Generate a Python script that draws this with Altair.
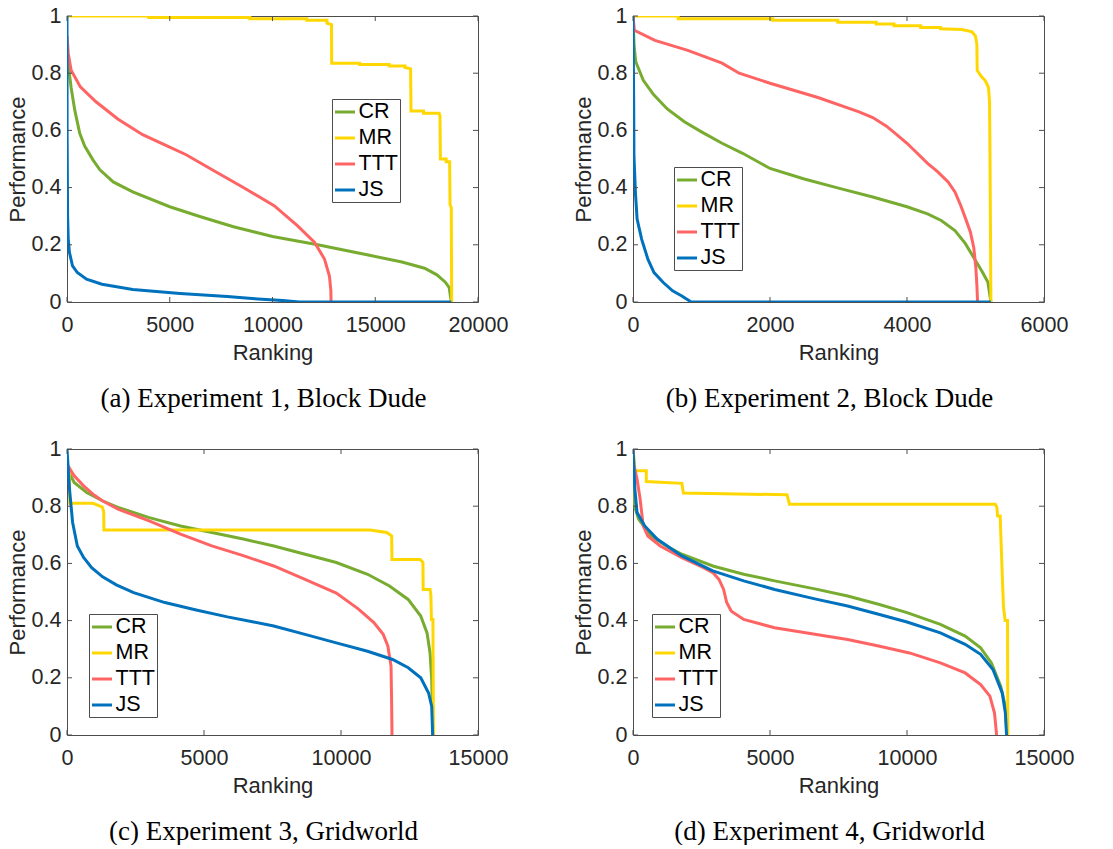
import altair as alt
import pandas as pd

SERIES = ["CR", "MR", "TTT", "JS"]
COLORS = ["#77AC30", "#FFD700", "#FF6464", "#0072BD"]
Y_TICKS = [0, 0.2, 0.4, 0.6, 0.8, 1]

# ---------- (a) Experiment 1, Block Dude ----------
A_XTICKS = [0, 5000, 10000, 15000, 20000]
A_CR = [(0, 0.87), (60, 0.83), (200, 0.75), (380, 0.67), (620, 0.59), (860, 0.545), (1270, 0.496),
        (1600, 0.462), (2250, 0.42), (3200, 0.385), (5000, 0.333), (6500, 0.298), (8100, 0.263),
        (10000, 0.229), (12200, 0.200), (14600, 0.165), (16300, 0.14), (17400, 0.118), (18000, 0.095),
        (18400, 0.07), (18600, 0.05), (18700, 0.0)]
A_MR = [(0, 1.0), (3980, 1.0), (3980, 0.995), (8900, 0.995), (8900, 0.99), (11670, 0.99), (11670, 0.985),
        (12650, 0.985), (12650, 0.975), (12870, 0.97), (12880, 0.835), (14240, 0.835), (14240, 0.83),
        (15680, 0.83), (15680, 0.825), (16450, 0.825), (16450, 0.82), (16720, 0.815), (16740, 0.668),
        (17350, 0.668), (17350, 0.66), (18110, 0.66), (18150, 0.65), (18170, 0.50), (18450, 0.50),
        (18450, 0.49), (18620, 0.49), (18640, 0.34), (18700, 0.33), (18720, 0.0)]
A_TTT = [(0, 0.93), (60, 0.87), (200, 0.81), (650, 0.752), (1410, 0.70), (2470, 0.64), (3680, 0.585),
         (5050, 0.54), (5800, 0.515), (7000, 0.465), (8560, 0.401), (10080, 0.337), (11210, 0.267),
         (12050, 0.208), (12530, 0.15), (12770, 0.091), (12840, 0.04), (12850, 0.0)]
A_JS = [(0, 1.0), (5, 0.6), (30, 0.3), (60, 0.22), (120, 0.173), (270, 0.126), (500, 0.103), (950, 0.08),
        (1700, 0.062), (3200, 0.044), (5500, 0.03), (7800, 0.019), (9000, 0.012), (10500, 0.005),
        (11300, 0.0), (18700, 0.0)]

# ---------- (b) Experiment 2, Block Dude ----------
B_XTICKS = [0, 2000, 4000, 6000]
B_CR = [(0, 1.0), (15, 0.9), (40, 0.84), (150, 0.775), (300, 0.725), (500, 0.675), (750, 0.63),
        (1000, 0.595), (1300, 0.555), (1600, 0.52), (2000, 0.467), (2500, 0.43), (3000, 0.398),
        (3500, 0.367), (4000, 0.333), (4300, 0.308), (4500, 0.285), (4700, 0.25), (4850, 0.205),
        (5000, 0.145), (5100, 0.105), (5180, 0.07), (5225, 0.0)]
B_MR = [(0, 1.0), (660, 1.0), (660, 0.99), (2040, 0.99), (2040, 0.985), (2990, 0.985), (2990, 0.978),
        (3550, 0.978), (3550, 0.972), (3810, 0.972), (3810, 0.966), (4200, 0.966), (4200, 0.96),
        (4490, 0.96), (4490, 0.955), (4800, 0.953), (4950, 0.945), (5000, 0.93), (5020, 0.90),
        (5025, 0.81), (5080, 0.79), (5140, 0.775), (5190, 0.75), (5205, 0.70), (5210, 0.57), (5225, 0.0)]
B_TTT = [(0, 1.0), (20, 0.95), (320, 0.915), (800, 0.88), (1300, 0.835), (1550, 0.80), (2000, 0.765),
         (2700, 0.715), (3300, 0.665), (3500, 0.645), (3700, 0.615), (3850, 0.585), (4000, 0.555),
         (4150, 0.52), (4300, 0.485), (4450, 0.455), (4600, 0.42), (4700, 0.385), (4780, 0.34),
         (4850, 0.295), (4925, 0.245), (4975, 0.19), (5005, 0.12), (5020, 0.06), (5030, 0.0)]
B_JS = [(0, 1.0), (10, 0.7), (14, 0.51), (36, 0.38), (60, 0.29), (126, 0.22), (217, 0.15), (307, 0.103),
        (442, 0.068), (578, 0.039), (713, 0.021), (850, 0.0), (5225, 0.0)]

# ---------- (c) Experiment 3, Gridworld ----------
C_XTICKS = [0, 5000, 10000, 15000]
C_CR = [(0, 0.95), (40, 0.924), (263, 0.883), (719, 0.848), (1290, 0.819), (1861, 0.796), (3000, 0.76),
        (4144, 0.731), (5285, 0.708), (6430, 0.685), (7550, 0.661), (8690, 0.632), (9830, 0.603),
        (10970, 0.562), (11770, 0.521), (12450, 0.474), (12910, 0.416), (13140, 0.357), (13250, 0.287),
        (13310, 0.194), (13360, 0.0)]
C_MR = [(0, 0.93), (90, 0.92), (95, 0.81), (950, 0.81), (1290, 0.797), (1340, 0.78), (1347, 0.717),
        (11060, 0.717), (11670, 0.708), (11850, 0.696), (11860, 0.614), (12890, 0.614), (12990, 0.603),
        (13000, 0.509), (13250, 0.509), (13280, 0.49), (13300, 0.404), (13355, 0.404), (13375, 0.0)]
C_TTT = [(0, 0.95), (40, 0.94), (263, 0.906), (605, 0.871), (947, 0.842), (1290, 0.819), (1861, 0.79),
         (3000, 0.749), (4144, 0.702), (5285, 0.661), (6404, 0.628), (7546, 0.591), (8687, 0.544),
         (9829, 0.496), (10628, 0.441), (11200, 0.393), (11540, 0.352), (11710, 0.311), (11826, 0.241),
         (11850, 0.1), (11861, 0.0)]
C_JS = [(0, 1.0), (91, 0.86), (205, 0.743), (377, 0.661), (605, 0.621), (900, 0.585), (1300, 0.553),
        (1800, 0.525), (2432, 0.498), (3573, 0.463), (4715, 0.437), (5856, 0.413), (6770, 0.396),
        (7546, 0.381), (8687, 0.352), (9829, 0.322), (10970, 0.293), (11884, 0.264), (12454, 0.235),
        (12911, 0.2), (13196, 0.147), (13311, 0.1), (13345, 0.0)]

# ---------- (d) Experiment 4, Gridworld ----------
D_XTICKS = [0, 5000, 10000, 15000]
D_CR = [(0, 1.0), (20, 0.88), (60, 0.8), (203, 0.755), (655, 0.696), (1219, 0.661), (1783, 0.632),
        (2912, 0.591), (4041, 0.562), (5169, 0.539), (6637, 0.511), (7833, 0.486), (8962, 0.457),
        (10000, 0.428), (11219, 0.387), (12122, 0.346), (12686, 0.305), (13081, 0.252), (13420, 0.171),
        (13590, 0.1), (13645, 0.0)]
D_MR = [(0, 1.0), (40, 0.965), (68, 0.924), (485, 0.924), (485, 0.886), (1783, 0.88), (1840, 0.846),
        (5621, 0.84), (5711, 0.807), (13220, 0.807), (13280, 0.796), (13305, 0.766), (13400, 0.766),
        (13460, 0.603), (13520, 0.45), (13580, 0.40), (13670, 0.40), (13680, 0.0)]
D_TTT = [(0, 1.0), (40, 0.94), (147, 0.895), (260, 0.825), (372, 0.731), (542, 0.696), (993, 0.661),
         (1783, 0.62), (2573, 0.585), (2912, 0.568), (3138, 0.544), (3307, 0.509), (3420, 0.463),
         (3589, 0.433), (4041, 0.404), (5169, 0.375), (6637, 0.352), (7833, 0.334), (8962, 0.311),
         (10090, 0.287), (11219, 0.252), (12122, 0.217), (12686, 0.176), (13025, 0.136), (13194, 0.077),
         (13270, 0.0)]
D_JS = [(0, 1.0), (68, 0.86), (147, 0.778), (429, 0.731), (880, 0.685), (1783, 0.626), (2912, 0.574),
        (4041, 0.539), (5169, 0.509), (6637, 0.476), (7833, 0.451), (8962, 0.422), (10000, 0.395),
        (11219, 0.357), (12122, 0.317), (12686, 0.282), (13137, 0.229), (13476, 0.147), (13590, 0.077),
        (13634, 0.0)]

PANELS = [
    dict(caption="(a) Experiment 1, Block Dude", xmax=20000, xticks=A_XTICKS,
         data={"CR": A_CR, "MR": A_MR, "TTT": A_TTT, "JS": A_JS}, legend=(265, 83)),
    dict(caption="(b) Experiment 2, Block Dude", xmax=6000, xticks=B_XTICKS,
         data={"CR": B_CR, "MR": B_MR, "TTT": B_TTT, "JS": B_JS}, legend=(41, 151)),
    dict(caption="(c) Experiment 3, Gridworld", xmax=15000, xticks=C_XTICKS,
         data={"CR": C_CR, "MR": C_MR, "TTT": C_TTT, "JS": C_JS}, legend=(22, 165)),
    dict(caption="(d) Experiment 4, Gridworld", xmax=15000, xticks=D_XTICKS,
         data={"CR": D_CR, "MR": D_MR, "TTT": D_TTT, "JS": D_JS}, legend=(19, 165)),
]

W, H = 411, 286
AX = "#4d4d4d"
TXT = "#262626"
SANS = "Liberation Sans"
TICK = 5
LW = 3


def panel(p):
    xenc = alt.X("x:Q",
                 scale=alt.Scale(domain=[0, p["xmax"]], nice=False, zero=False),
                 axis=alt.Axis(values=p["xticks"], format="d", title="Ranking"))
    yenc = alt.Y("y:Q",
                 scale=alt.Scale(domain=[0, 1], nice=False),
                 axis=alt.Axis(values=Y_TICKS, format="~g", title="Performance"))
    lx, ly = p["legend"]
    legend = alt.Legend(title=None, orient="none", legendX=lx, legendY=ly,
                        symbolType="stroke", symbolSize=400, symbolStrokeWidth=LW,
                        labelFontSize=21.5, labelFont=SANS, labelColor="black", labelOffset=2,
                        strokeColor=AX, fillColor="white", padding=1.5, rowPadding=4)
    cenc = alt.Color("series:N", scale=alt.Scale(domain=SERIES, range=COLORS), legend=legend)

    layers = []
    for s in SERIES:
        df = pd.DataFrame(p["data"][s], columns=["x", "y"])
        df["i"] = range(len(df))
        df["series"] = s
        layers.append(
            alt.Chart(df).mark_line(strokeWidth=LW, clip=True).encode(
                x=xenc, y=yenc, color=cenc, order=alt.Order("i:Q")))

    xt = pd.DataFrame({"x": p["xticks"]})
    yt = pd.DataFrame({"y": Y_TICKS})
    layers.append(alt.Chart(xt).mark_rule(color=AX, strokeWidth=1).encode(
        x=xenc, y=alt.value(H), y2=alt.value(H - TICK)))
    layers.append(alt.Chart(xt).mark_rule(color=AX, strokeWidth=1).encode(
        x=xenc, y=alt.value(0), y2=alt.value(TICK)))
    layers.append(alt.Chart(yt).mark_rule(color=AX, strokeWidth=1).encode(
        y=yenc, x=alt.value(0), x2=alt.value(TICK)))
    layers.append(alt.Chart(yt).mark_rule(color=AX, strokeWidth=1).encode(
        y=yenc, x=alt.value(W - TICK), x2=alt.value(W)))

    return alt.layer(*layers).properties(
        width=W, height=H,
        title=alt.TitleParams(text=p["caption"], orient="bottom", anchor="middle", frame="group",
                              font="Liberation Serif", fontSize=27, fontWeight="normal",
                              color="black", offset=22, dx=-9))


chart = alt.concat(*[panel(p) for p in PANELS], columns=2,
                   spacing={"row": 25, "column": 62}).resolve_scale(
    color="independent").resolve_legend(color="independent").configure(
    padding={"left": 5, "top": 4, "right": 0, "bottom": 0},
    background="white",
).configure_view(
    stroke=AX, strokeWidth=1
).configure_axis(
    grid=False, ticks=False, domain=False, labelFlush=False,
    labelFont=SANS, labelFontSize=21.5, labelColor=TXT,
    titleFont=SANS, titleFontSize=22, titleFontWeight="normal", titleColor=TXT,
).configure_axisX(
    labelPadding=12, titlePadding=7
).configure_axisY(
    labelPadding=6, titlePadding=2
)

chart.save("out.html", embed_options={"renderer": "svg", "actions": False})
